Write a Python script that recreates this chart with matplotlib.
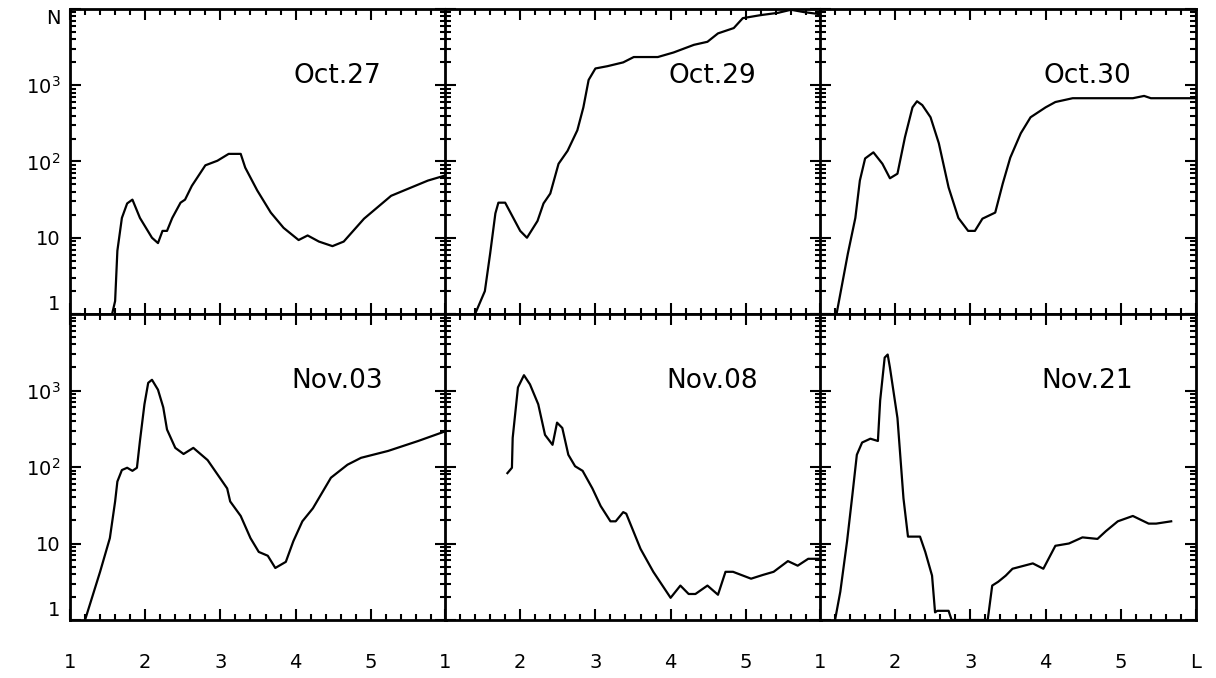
import numpy as np
import matplotlib
matplotlib.use("Agg")
from matplotlib import pyplot as plt
from matplotlib.ticker import LogLocator, NullFormatter, FixedLocator, MultipleLocator

# L values and log10(N)
dates = ["Oct.27", "Oct.29", "Oct.30", "Nov.03", "Nov.08", "Nov.21"]

oct27_l = [1.56, 1.60, 1.63, 1.69, 1.76, 1.83, 1.93, 2.09, 2.17, 2.23, 2.29, 2.36, 2.47, 2.53, 2.62,
           2.8, 2.96, 3.11, 3.27, 3.33, 3.49, 3.67, 3.84, 4.04, 4.16, 4.31, 4.49, 4.64, 4.91, 5.27,
           5.49, 5.76, 6.0]
oct27_logn = [0, 0.17, 0.83, 1.26, 1.45, 1.5, 1.26, 1.0, 0.93, 1.09, 1.09, 1.26, 1.46, 1.5, 1.68,
              1.95, 2.01, 2.1, 2.1, 1.92, 1.62, 1.33, 1.13, 0.97, 1.03, 0.95, 0.89, 0.95, 1.25, 1.55,
              1.64, 1.75, 1.82]

oct29_l = [1.4, 1.53, 1.6, 1.67, 1.71, 1.8, 2.0, 2.09, 2.23, 2.31, 2.4, 2.51, 2.63, 2.76, 2.84,
           2.91, 3.0, 3.16, 3.37, 3.51, 3.83, 4.04, 4.31, 4.49, 4.63, 4.84, 4.96, 5.2, 5.43, 5.6,
           5.77, 6.0]
oct29_logn = [0, 0.3, 0.79, 1.32, 1.46, 1.46, 1.09, 1.0, 1.22, 1.45, 1.58, 1.97, 2.14, 2.41, 2.71,
              3.07, 3.22, 3.25, 3.3, 3.37, 3.37, 3.43, 3.53, 3.57, 3.68, 3.75, 3.88, 3.92, 3.95, 3.99,
              3.96, 3.93]

oct30_l = [1.22, 1.37, 1.47, 1.53, 1.6, 1.71, 1.83, 1.93, 2.03, 2.13, 2.23, 2.29, 2.36, 2.47, 2.58,
           2.71, 2.84, 2.97, 3.06, 3.16, 3.33, 3.43, 3.53, 3.67, 3.8, 4.0, 4.13, 4.36, 5.16, 5.31,
           5.4, 6.0]
oct30_logn = [0, 0.79, 1.26, 1.75, 2.04, 2.12, 1.97, 1.78, 1.84, 2.32, 2.71, 2.79, 2.74, 2.58, 2.24,
              1.66, 1.26, 1.09, 1.09, 1.25, 1.33, 1.71, 2.05, 2.37, 2.58, 2.71, 2.78, 2.83, 2.83, 2.86,
              2.83, 2.83]

nov03_l = [1.2, 1.4, 1.53, 1.6, 1.63, 1.69, 1.76, 1.83, 1.89, 1.93, 1.99, 2.04, 2.09, 2.17, 2.24,
           2.29, 2.4, 2.51, 2.64, 2.83, 3.09, 3.13, 3.27, 3.4, 3.51, 3.63, 3.73, 3.87, 3.97, 4.09,
           4.23, 4.47, 4.69, 4.87, 5.23, 5.63, 6.0]
nov03_logn = [0, 0.63, 1.07, 1.55, 1.81, 1.96, 1.99, 1.95, 1.99, 2.34, 2.82, 3.1, 3.14, 3.01, 2.78,
              2.49, 2.25, 2.17, 2.25, 2.09, 1.72, 1.55, 1.36, 1.07, 0.89, 0.84, 0.68, 0.76, 1.03, 1.29,
              1.46, 1.86, 2.03, 2.12, 2.21, 2.34, 2.47]

nov08_l = [1.83, 1.89, 1.9, 1.97, 2.05, 2.13, 2.24, 2.33, 2.43, 2.49, 2.56, 2.64, 2.73, 2.83, 2.96,
           3.07, 3.2, 3.27, 3.37, 3.41, 3.6, 3.77, 4.0, 4.13, 4.24, 4.33, 4.49, 4.63, 4.73, 4.83,
           5.07, 5.23, 5.37, 5.56, 5.69, 5.83, 5.97]
nov08_logn = [1.92, 1.99, 2.38, 3.04, 3.2, 3.08, 2.82, 2.42, 2.29, 2.58, 2.51, 2.16, 2.01, 1.95, 1.72,
              1.49, 1.29, 1.29, 1.41, 1.39, 0.93, 0.63, 0.29, 0.45, 0.34, 0.34, 0.45, 0.33, 0.63, 0.63,
              0.54, 0.59, 0.63, 0.77, 0.71, 0.8, 0.8]

nov21_l = [1.2, 1.27, 1.36, 1.43, 1.49, 1.56, 1.67, 1.77, 1.8, 1.86, 1.9, 1.93, 2.03, 2.11, 2.17,
           2.33, 2.4, 2.49, 2.53, 2.56, 2.71, 2.75, 3.23, 3.29, 3.37, 3.47, 3.56, 3.83, 3.97, 4.13,
           4.31, 4.49, 4.69, 4.8, 4.96, 5.16, 5.37, 5.47, 5.67]
nov21_logn = [0, 0.37, 1.03, 1.63, 2.16, 2.32, 2.37, 2.34, 2.87, 3.43, 3.47, 3.3, 2.64, 1.59, 1.09,
              1.09, 0.89, 0.58, 0.1, 0.12, 0.12, 0, 0, 0.45, 0.5, 0.58, 0.67, 0.74, 0.67, 0.97,
              1.0, 1.08, 1.06, 1.16, 1.29, 1.36, 1.26, 1.26, 1.29]

series_l = [oct27_l, oct29_l, oct30_l, nov03_l, nov08_l, nov21_l]
series_logn = [oct27_logn, oct29_logn, oct30_logn, nov03_logn, nov08_logn, nov21_logn]

x_ticks = [1, 2, 3, 4, 5, 6]
y_ticks = [1, 10, 100, 1000, 10000]
y_labels_top = ["1", "10", "10$^2$", "10$^3$", "N"]
y_labels_bot = ["1", "10", "10$^2$", "10$^3$", ""]

plt.rcParams["font.family"] = "DejaVu Sans"
plt.rcParams["mathtext.fontset"] = "dejavusans"

fig = plt.figure(figsize=(12.16, 6.78), dpi=100)
W, H = 1216.0, 678.0
lefts = [70, 445, 820]
pw = 376
rows = [(9, 314), (314, 620)]  # top/bottom pixel of each row

for i in range(6):
    r, c = divmod(i, 3)
    top, bot = rows[r]
    ax = fig.add_axes([lefts[c] / W, 1 - bot / H, pw / W, (bot - top) / H])
    ax.plot(series_l[i], 10 ** np.array(series_logn[i]), color="black", lw=1.6)
    ax.set_yscale("log")
    ax.set_xlim(1, 6)
    ax.set_ylim(1, 10000)

    ax.xaxis.set_major_locator(FixedLocator(x_ticks))
    ax.xaxis.set_minor_locator(MultipleLocator(0.2))
    ax.yaxis.set_major_locator(FixedLocator(y_ticks))
    ax.yaxis.set_minor_locator(LogLocator(base=10, subs=np.arange(2, 10)))
    ax.yaxis.set_minor_formatter(NullFormatter())
    ax.tick_params(which="both", direction="in", top=True, right=True, width=1.5, colors="black")
    ax.tick_params(which="major", length=8)
    ax.tick_params(which="minor", length=4)
    ax.tick_params(axis="x", which="major", pad=24, labelsize=14)
    ax.tick_params(axis="y", which="major", pad=7, labelsize=14)

    if r == 1:
        ax.set_xticklabels(["1", "2", "3", "4", "5", "L" if c == 2 else ""])
    else:
        ax.set_xticklabels([])
    if c == 0:
        ax.set_yticklabels(y_labels_top if r == 0 else y_labels_bot)
        ylabs = ax.get_yticklabels()
        ylabs[0].set_va("bottom")
        ylabs[-1].set_va("top")
    else:
        ax.set_yticklabels([])

    for s in ax.spines.values():
        s.set_linewidth(2)

    ax.text(0.71, 0.78, dates[i], transform=ax.transAxes, ha="center", va="center", fontsize=19)

fig.savefig("out.png", dpi=100)
